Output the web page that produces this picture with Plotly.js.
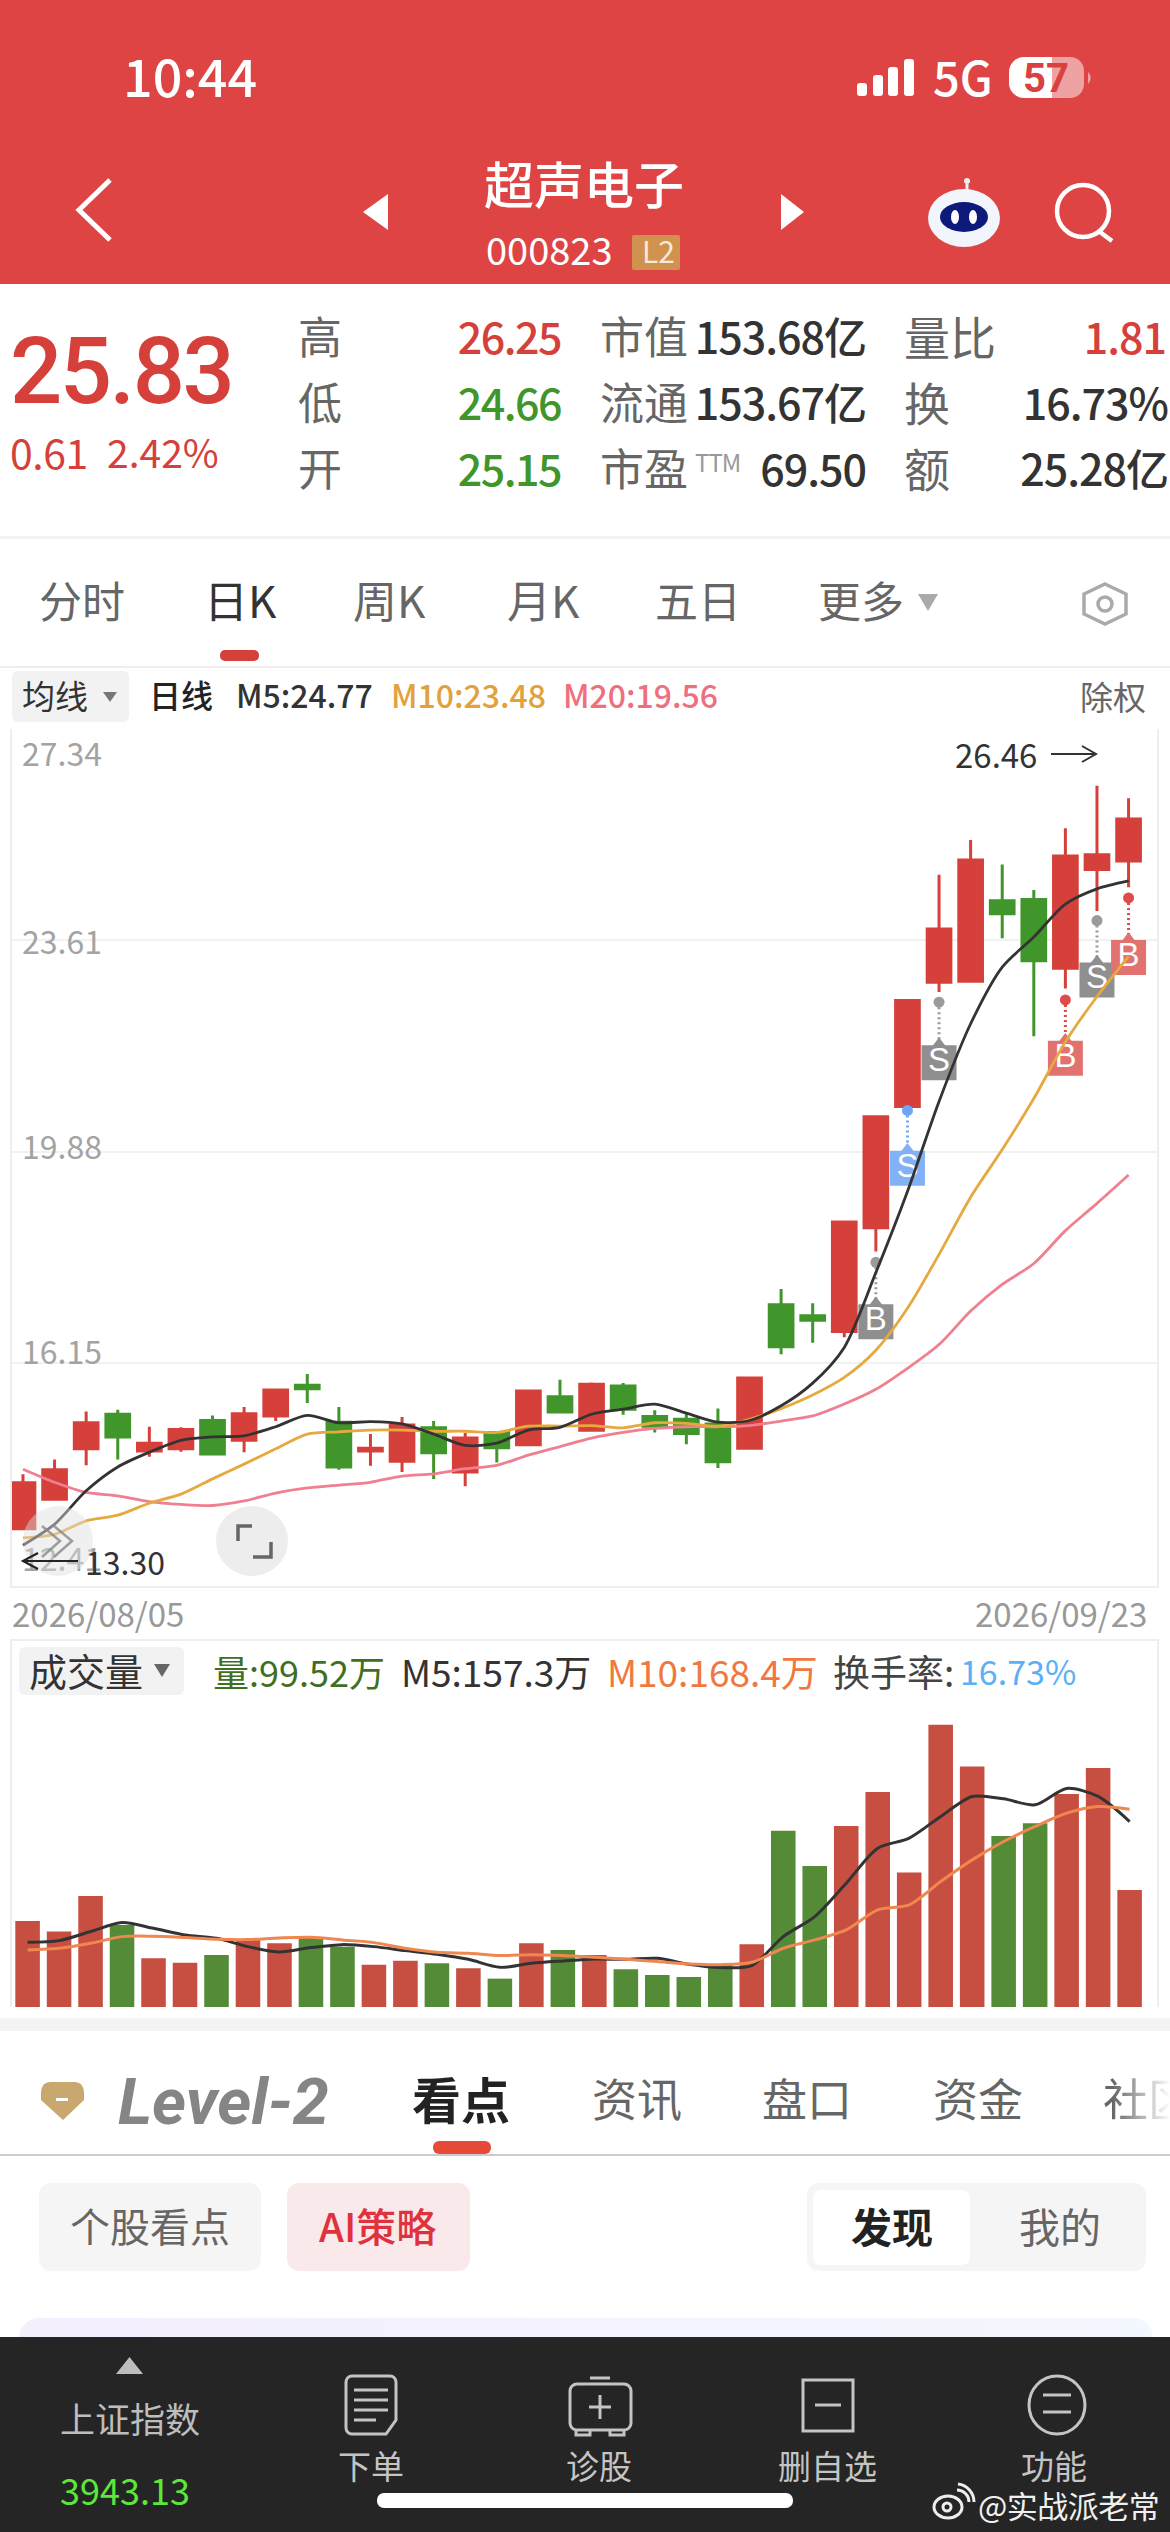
<!DOCTYPE html>
<html>
<head>
<meta charset="utf-8">
<script src="https://cdn.plot.ly/plotly-3.0.1.min.js"></script>
<style>
html, body { margin: 0; padding: 0; background: #fff; }
#page { position: relative; width: 1170px; height: 2532px; overflow: hidden; font-family: 'Noto Sans CJK SC', sans-serif; }
.box { position: absolute; z-index: 0; }
.t { position: absolute; white-space: nowrap; line-height: 1; transform: translateY(-50%); z-index: 3; }
#chart { position: absolute; left: 0; top: 729px; width: 1170px; height: 1281px; z-index: 1; }
#icons { position: absolute; left: 0; top: 0; pointer-events: none; z-index: 2; }
</style>
</head>
<body>
<div id="page">
  <div id="chart"></div>
  <svg id="icons" width="1170" height="2532" viewBox="0 0 1170 2532"></svg>
</div>
<script>
// Candles, one per trading day
const opens  = [13.23,13.75,14.64,15.25,14.60,14.64,15.14,14.79,15.22,15.76,15.11,14.60,14.42,15.01,14.23,14.93,14.71,15.56,14.97,15.75,15.21,15.16,15.08,14.65,17.18,16.99,16.71,18.54,20.68,22.87,22.89,24.31,24.33,23.12,24.86,25.01];
const closes = [14.04,14.27,15.10,14.85,14.74,14.98,14.55,15.26,15.68,15.70,14.32,14.65,15.06,14.57,14.83,14.66,15.66,15.29,15.78,15.34,15.04,14.91,14.41,15.89,16.44,16.91,18.64,20.50,22.55,23.81,25.03,24.08,23.25,25.10,25.12,25.75];
const highs  = [14.19,14.45,15.30,15.33,15.03,15.02,15.23,15.38,15.69,15.96,15.38,14.90,15.20,15.13,14.92,14.95,15.66,15.86,15.81,15.80,15.32,15.27,15.35,15.89,17.46,17.21,18.64,20.50,22.55,24.77,25.38,24.95,24.50,25.59,26.34,26.12];
const lows   = [13.23,13.75,14.35,14.45,14.50,14.59,14.55,14.58,15.13,15.45,14.27,14.34,14.23,14.11,13.98,14.40,14.71,15.29,14.97,15.24,14.93,14.72,14.30,14.65,16.31,16.51,16.61,18.12,20.68,22.70,22.89,23.65,21.92,22.76,24.13,24.55];

const ma5  = [12.94,13.31,13.90,14.32,14.58,14.79,14.85,14.87,15.03,15.23,15.10,15.12,15.08,14.90,14.70,14.74,14.97,15.02,15.25,15.34,15.43,15.27,15.11,15.14,15.40,15.80,16.43,17.75,19.18,20.77,22.14,23.14,23.67,24.25,24.52,24.66];
const ma10 = [13.07,13.13,13.37,13.47,13.68,13.84,14.11,14.37,14.64,14.90,14.94,14.97,14.97,14.95,14.95,14.93,15.04,15.04,15.05,15.01,15.10,15.09,15.04,15.16,15.35,15.59,15.90,16.38,17.12,18.07,19.08,19.92,20.82,21.82,22.62,23.33];
const ma20 = [14.28,14.05,13.87,13.81,13.71,13.66,13.64,13.72,13.86,13.95,14.00,14.05,14.16,14.20,14.29,14.35,14.53,14.68,14.83,14.93,15.00,15.03,15.03,15.05,15.13,15.22,15.43,15.69,16.06,16.48,17.07,17.54,17.91,18.49,18.97,19.47];

// Volume, in units of 10k shares
const volumes = [73.1,64.1,94.4,69.7,41.4,37.7,44.2,57.0,54.1,59.0,51.3,36.0,39.4,37.1,32.9,24.1,54.1,48.5,44.2,32.0,27.2,25.5,35.7,53.3,149.7,119.9,153.9,182.6,114.3,239.8,204.4,145.4,156.2,180.9,203.0,99.5];
const volUp   = [1,1,1,0,1,1,0,1,1,0,0,1,1,0,1,0,1,0,1,0,0,0,0,1,0,0,1,1,1,1,1,0,0,1,1,1];
const volMa5  = [55.0,56.4,64.1,71.7,66.9,61.2,58.4,51.3,46.8,50.5,53.0,51.3,47.9,44.8,40.5,33.7,37.1,39.1,40.8,40.5,41.4,36.3,33.5,35.2,59.8,76.8,105.2,134.9,143.5,161.9,178.9,176.9,171.8,185.7,178.9,157.6];
const volMa10 = [48.5,49.9,54.1,59.8,60.1,59.0,57.6,57.3,58.7,59.3,57.0,54.7,49.9,46.5,45.6,43.7,44.5,43.7,42.2,40.5,38.6,36.6,36.0,38.0,49.9,57.0,65.5,82.5,86.8,106.6,125.0,140.6,153.4,164.7,170.4,168.1];

// Buy / sell signals
const signalDay   = [27,28,29,33,34,35];
const signalText  = ['B','S','S','B','S','B'];
const signalKind  = ['gray','blue','gray','red','gray','red'];
const signalDot   = [17.93,20.61,22.52,22.56,23.96,24.36];
const signalBadge = [16.88,19.59,21.45,21.53,22.91,23.31];
const signalPeak  = [17.22,19.93,21.79,21.87,23.25,23.65];

const yTickVals   = [27.34,23.61,19.88,16.15,12.41];
const yTickLabels = ['27.34','23.61','19.88','16.15','12.41'];
const startDate = '2026/08/05';
const endDate   = '2026/09/23';
const highLabel = '26.46';
const lowLabel  = '13.30';

const RED = '#D5403A', GREEN = '#40962B';
const days = opens.map((_, i) => i);
const badgeColors = { gray: '#8F8F8F', blue: '#82B1F5', red: '#E2726F' };
const dotColors   = { gray: '#9A9A9A', blue: '#6FA5F5', red: '#DE4B48' };

const page = document.getElementById('page');

function box(x, y, w, h, bg, radius) {
    const d = document.createElement('div');
    d.className = 'box';
    d.style.cssText = `left:${x}px;top:${y}px;width:${w}px;height:${h}px;background:${bg};border-radius:${radius || 0}px;`;
    page.appendChild(d);
}

function txt(s, x, y, size, color, opts) {
    opts = opts || {};
    const d = document.createElement('div');
    d.className = 't';
    d.textContent = s;
    d.style.top = y + 'px';
    if (opts.right) d.style.right = (1170 - x) + 'px'; else d.style.left = x + 'px';
    d.style.fontSize = size + 'px';
    d.style.color = color;
    d.style.fontWeight = opts.weight || 400;
    if (opts.family) d.style.fontFamily = opts.family;
    if (opts.spacing) d.style.letterSpacing = opts.spacing + 'px';
    if (opts.italic) d.style.fontStyle = 'italic';
    if (opts.mask) d.style.webkitMaskImage = opts.mask;
    page.appendChild(d);
}

// Page blocks
box(0, 0, 1170, 284, '#DF4444');
box(632, 235, 48, 35, '#D2924F', 2);
box(0, 536, 1170, 3, '#F2F2F2');
box(220, 650, 39, 11, '#D5403A', 5);
box(0, 666, 1170, 2, '#EEEEEE');
box(12, 671, 117, 51, '#F2F2F2', 6);
box(19, 1647, 165, 48, '#F2F2F2', 6);
box(0, 2018, 1170, 13, '#F4F4F4');
box(433, 2141, 58, 13, '#E84A3A', 6);
box(0, 2154, 1170, 2, '#CCCCCC');
box(39, 2183, 222, 88, '#F5F5F5', 12);
box(287, 2183, 183, 88, '#FAE9EB', 12);
box(807, 2183, 339, 88, '#F5F5F5', 12);
box(813, 2190, 157, 75, '#fff', 8);
box(19, 2318, 1134, 40, 'linear-gradient(90deg,#F4EEFD,#F3F7FE)', 20);
box(0, 2337, 1170, 195, '#252525');

// Status bar and title
txt('10:44', 123, 75, 52, '#fff', { weight: 500 });
txt('5G', 933, 75, 47, '#fff', { weight: 500 });
txt('超声电子', 484, 182, 50, '#fff', { weight: 500 });
txt('000823', 486, 249, 38, '#fff');
txt('L2', 642, 250, 30, '#F6E9D8');

// Quote panel
txt('25.83', 10, 372, 92, RED, { weight: 500, family: 'Roboto', spacing: -2.5 });
txt('0.61', 10, 451, 41, RED, { spacing: -0.5 });
txt('2.42%', 107, 451, 39, RED);
txt('高', 298, 335, 44, '#666');
txt('低', 298, 401, 44, '#666');
txt('开', 298, 467, 44, '#666');
txt('26.25', 561, 335, 43, RED, { right: true, weight: 500, spacing: -1.5 });
txt('24.66', 561, 401, 43, GREEN, { right: true, weight: 500, spacing: -1.5 });
txt('25.15', 561, 467, 43, GREEN, { right: true, weight: 500, spacing: -1.5 });
txt('市值', 600, 335, 44, '#666');
txt('流通', 600, 401, 44, '#666');
txt('市盈', 600, 467, 44, '#666');
txt('TTM', 695, 462, 24, '#999', { spacing: -1 });
txt('153.68亿', 866, 335, 43, '#333', { right: true, weight: 500, spacing: -1 });
txt('153.67亿', 866, 401, 43, '#333', { right: true, weight: 500, spacing: -1 });
txt('69.50', 866, 467, 43, '#333', { right: true, weight: 500, spacing: -1 });
txt('量比', 904, 335, 46, '#666');
txt('换', 904, 401, 46, '#666');
txt('额', 904, 467, 46, '#666');
txt('1.81', 1166, 335, 43, RED, { right: true, weight: 500, spacing: -1 });
txt('16.73%', 1168, 401, 43, '#333', { right: true, weight: 500, spacing: -1 });
txt('25.28亿', 1168, 467, 43, '#333', { right: true, weight: 500, spacing: -1 });

// Period tabs
txt('分时', 39, 599, 43, '#666');
txt('日K', 204, 599, 44, '#333');
txt('周K', 353, 599, 44, '#666');
txt('月K', 507, 599, 44, '#666');
txt('五日', 655, 599, 43, '#666');
txt('更多', 818, 599, 43, '#666');

// Chart legend rows
txt('均线', 22, 695, 33, '#333');
txt('日线', 149, 694, 32, '#222', { weight: 500 });
txt('M5:24.77', 236, 694, 32, '#333', { weight: 500 });
txt('M10:23.48', 391, 694, 32, '#E2A23B', { weight: 500 });
txt('M20:19.56', 563, 694, 32, '#EF6F7E', { weight: 500 });
txt('除权', 1080, 696, 33, '#666');
txt('成交量', 29, 1670, 38, '#333');
txt('量:99.52万', 213, 1671, 36, '#3F6F1F');
txt('M5:157.3万', 401, 1671, 37, '#333');
txt('M10:168.4万', 607, 1671, 37, '#F07840');
txt('换手率:', 833, 1671, 37, '#444');
txt('16.73%', 960, 1671, 34, '#5BB0F5');

// Lower tabs
txt('Level-2', 118, 2102, 65, '#858585', { weight: 700, italic: true, family: 'Roboto' });
txt('看点', 412, 2097, 49, '#222', { weight: 700 });
txt('资讯', 592, 2097, 45, '#666');
txt('盘口', 762, 2097, 45, '#666');
txt('资金', 933, 2097, 45, '#666');
txt('社区', 1103, 2097, 45, '#666', { mask: 'linear-gradient(90deg,#000 10%,transparent 75%)' });
txt('个股看点', 70, 2225, 40, '#666');
txt('AI策略', 319, 2225, 40, '#E0323C', { weight: 500 });
txt('发现', 851, 2225, 41, '#222', { weight: 700 });
txt('我的', 1019, 2225, 41, '#666');

// Bottom bar
txt('上证指数', 60, 2417, 35, '#BDBDBD');
txt('3943.13', 60, 2489, 36, '#5BE83A');
txt('下单', 338, 2465, 33, '#C4C4C4');
txt('诊股', 566, 2465, 33, '#C4C4C4');
txt('删自选', 778, 2465, 33, '#C4C4C4');
txt('功能', 1021, 2465, 33, '#C4C4C4');
txt('@实战派老常', 978, 2504, 31, '#F0F0F0', { spacing: -0.5 });

// Icons
document.getElementById('icons').innerHTML = `
  <g fill="#fff">
    <rect x="857" y="83" width="10" height="13" rx="3"/><rect x="873" y="75" width="10" height="21" rx="3"/>
    <rect x="888" y="67" width="10" height="29" rx="3"/><rect x="904" y="59" width="10" height="37" rx="3"/>
    <path d="M1009 72a15 15 0 0 1 15-15h28v41h-28a15 15 0 0 1-15-15z"/>
    <path d="M1052 57h18a14 14 0 0 1 14 14v13a14 14 0 0 1-14 14h-18z" opacity="0.5"/>
    <path d="M1088 72a8 8 0 0 1 0 12z" opacity="0.5"/>
  </g>
  <text x="1046" y="92" text-anchor="middle" font-family="Roboto" font-weight="700" font-size="40" fill="#D9403F">57</text>
  <path d="M110 180L79 210L110 240" fill="none" stroke="#fff" stroke-width="5"/>
  <path d="M388 194V230L363 212z M781 194V230L804 212z" fill="#fff"/>
  <circle cx="967" cy="181" r="3" fill="#eee"/><path d="M967 184V192" stroke="#eee" stroke-width="3"/>
  <ellipse cx="964" cy="218" rx="36" ry="29" fill="#F2F5FC"/>
  <ellipse cx="964" cy="217" rx="24" ry="15" fill="#0D1A7A"/>
  <ellipse cx="955" cy="217" rx="4" ry="7" fill="#fff"/><ellipse cx="973" cy="217" rx="4" ry="7" fill="#fff"/>
  <circle cx="1083" cy="211" r="26" fill="none" stroke="#fff" stroke-width="4.5"/>
  <path d="M1100 232L1112 241" stroke="#fff" stroke-width="4.5"/>
  <path d="M918 594H938L928 611z" fill="#AAA"/>
  <path d="M1105 584L1126 594V614L1105 624L1084 614V594z" fill="none" stroke="#AAA" stroke-width="3.5"/>
  <circle cx="1105" cy="604" r="7" fill="none" stroke="#AAA" stroke-width="3.5"/>
  <path d="M103 692H117L110 702z" fill="#777"/>
  <path d="M154 1664H170L162 1677z" fill="#666"/>
  <path d="M1051 754H1096M1082 746L1096 754L1082 762" fill="none" stroke="#333" stroke-width="2"/>
  <ellipse cx="58" cy="1541" rx="35" ry="35" fill="#DDD" opacity="0.45"/>
  <path d="M42 1526L60 1541L42 1557M54 1526L72 1541L54 1557" fill="none" stroke="#888" stroke-width="2.5" opacity="0.8"/>
  <path d="M78 1561H23M38 1553L23 1561L38 1569" fill="none" stroke="#222" stroke-width="2.2"/>
  <ellipse cx="252" cy="1541" rx="36" ry="35" fill="#EDEDED"/>
  <path d="M252 1526H238V1541M253 1557H271V1542" fill="none" stroke="#666" stroke-width="3.5"/>
  <path d="M50 2082H75Q83 2082 84 2092L84 2100L63 2120L41 2100L41 2092Q42 2082 50 2082z" fill="#C9A86F"/>
  <rect x="56" y="2098" width="12" height="3" fill="#fff"/>
  <path d="M129.5 2357L143 2374H116z" fill="#BDBDBD"/>
  <g fill="none" stroke="#C4C4C4" stroke-width="3">
    <path d="M352 2376H390a6 6 0 0 1 6 6V2420L386 2434H352a6 6 0 0 1-6-6V2382a6 6 0 0 1 6-6z"/>
    <path d="M354 2390H388M354 2400H388M354 2410H388M354 2420H376"/>
    <rect x="570" y="2384" width="61" height="46" rx="7"/><path d="M590 2378H610M600 2395V2419M589 2407H611M576 2430V2435H590V2430M610 2430V2435H624V2430"/>
    <rect x="803" y="2380" width="50" height="51"/><path d="M815 2405H841"/>
    <ellipse cx="1057" cy="2405" rx="28" ry="29"/><path d="M1043 2395H1071M1043 2412H1071"/>
  </g>
  <rect x="377" y="2493" width="416" height="15" rx="7" fill="#fff"/>
  <g fill="none" stroke="#EEE" stroke-width="3">
    <ellipse cx="948" cy="2507" rx="14" ry="11"/><circle cx="947" cy="2507" r="4"/>
    <path d="M957 2490a12 12 0 0 1 12 12M958 2484a18 18 0 0 1 16 18"/>
  </g>`;

// Chart traces
const traces = [{
    type: 'candlestick', x: days, open: opens, high: highs, low: lows, close: closes,
    xaxis: 'x', yaxis: 'y', whiskerwidth: 0,
    increasing: { line: { color: RED, width: 3 }, fillcolor: RED },
    decreasing: { line: { color: GREEN, width: 3 }, fillcolor: GREEN }
}];

// connector, dot and badge of each signal
signalDay.forEach((d, i) => {
    const kind = signalKind[i];
    traces.push({
        type: 'scatter', mode: 'lines', x: [d, d], y: [signalDot[i], signalBadge[i]],
        line: { color: dotColors[kind], width: 3, dash: '2px,3px' }, xaxis: 'x', yaxis: 'y'
    });
    traces.push({
        type: 'scatter', mode: 'markers', x: [d], y: [signalDot[i]],
        marker: { color: dotColors[kind], size: 11, symbol: 'circle' }, xaxis: 'x', yaxis: 'y'
    });
    traces.push({
        type: 'scatter', mode: 'markers', x: [d], y: [signalPeak[i]],
        marker: { color: badgeColors[kind], size: 12, symbol: 'triangle-up', line: { width: 0 } }, xaxis: 'x', yaxis: 'y'
    });
    traces.push({
        type: 'scatter', mode: 'markers+text', x: [d], y: [signalBadge[i]], text: [signalText[i]],
        textposition: 'middle center', textfont: { color: '#fff', size: 33, family: 'Liberation Sans' },
        marker: { color: badgeColors[kind], size: 35, symbol: 'square', line: { width: 0 } },
        xaxis: 'x', yaxis: 'y'
    });
});

function maLine(y, color, width, xa, ya) {
    return { type: 'scatter', mode: 'lines', x: days, y: y, xaxis: xa, yaxis: ya,
             line: { color: color, width: width, shape: 'spline', smoothing: 0.8 } };
}
traces.push(maLine(ma20, '#F07F8F', 2.8, 'x', 'y'));
traces.push(maLine(ma10, '#E6A93F', 2.8, 'x', 'y'));
traces.push(maLine(ma5, '#333333', 2.8, 'x', 'y'));

traces.push({
    type: 'bar', x: days, y: volumes, xaxis: 'x2', yaxis: 'y2', width: 0.78,
    marker: { color: volUp.map(u => u ? '#C64F41' : '#548B37'), line: { width: 0 } }
});
traces.push(maLine(volMa5, '#333333', 3, 'x2', 'y2'));
traces.push(maLine(volMa10, '#F08650', 3, 'x2', 'y2'));

// vertical nudges so the labels sit where the app puts them
const yTickShift = [-23, 0, 7, 13, 18];
const annotations = yTickVals.map((v, i) => ({
    xref: 'paper', x: 20 / 1170, xanchor: 'left', yref: 'y', y: v, yanchor: 'middle', yshift: yTickShift[i],
    text: yTickLabels[i], showarrow: false, font: { family: 'Noto Sans CJK SC', size: 32, color: '#A3A3A3' }
}));
const dateFont = { family: 'Noto Sans CJK SC', size: 33, color: '#999' };
annotations.push({ xref: 'paper', x: 10 / 1170, xanchor: 'left', yref: 'paper', y: 397 / 1281, yanchor: 'middle', text: startDate, showarrow: false, font: dateFont });
annotations.push({ xref: 'paper', x: 1149 / 1170, xanchor: 'right', yref: 'paper', y: 397 / 1281, yanchor: 'middle', text: endDate, showarrow: false, font: dateFont });
const markFont = { family: 'Noto Sans CJK SC', size: 33, color: '#333' };
annotations.push({ xref: 'paper', x: 953 / 1170, xanchor: 'left', yref: 'paper', y: 1256 / 1281, yanchor: 'middle', text: highLabel, showarrow: false, font: markFont });
annotations.push({ xref: 'paper', x: 83 / 1170, xanchor: 'left', yref: 'paper', y: 449 / 1281, yanchor: 'middle', text: lowLabel, showarrow: false, font: { family: 'Noto Sans CJK SC', size: 32, color: '#333' } });

const frame = '#EEEEEE';
const layout = {
    width: 1170, height: 1281,
    margin: { l: 0, r: 0, t: 0, b: 0 },
    paper_bgcolor: 'rgba(0,0,0,0)',
    plot_bgcolor: 'rgba(0,0,0,0)',
    showlegend: false,
    boxgap: 0.25,
    boxgroupgap: 0,
    hovermode: false,
    annotations: annotations,
    xaxis: { domain: [12 / 1170, 1157 / 1170], range: [-0.348, 35.9], showgrid: false, showticklabels: false, ticks: '', zeroline: false,
             showline: true, mirror: true, linecolor: frame, linewidth: 2, anchor: 'y', rangeslider: { visible: false } },
    yaxis: { domain: [424 / 1281, 1], range: [12.22, 27.34], tickvals: yTickVals.slice(1, 4), showticklabels: false, ticks: '',
             gridcolor: '#F1F1F1', gridwidth: 2, zeroline: false, showline: true, mirror: true, linecolor: frame, linewidth: 2, anchor: 'x' },
    xaxis2: { domain: [12 / 1170, 1157 / 1170], range: [-0.495, 35.87], showgrid: false, showticklabels: false, ticks: '', zeroline: false,
              side: 'top', showline: true, linecolor: frame, linewidth: 2, anchor: 'y2' },
    yaxis2: { domain: [3 / 1281, 369 / 1281], range: [0, 311], showgrid: false, showticklabels: false, ticks: '', zeroline: false,
              showline: true, mirror: true, linecolor: frame, linewidth: 2, anchor: 'x2' }
};

Plotly.newPlot('chart', traces, layout, { displayModeBar: false, staticPlot: true });
</script>
</body>
</html>
